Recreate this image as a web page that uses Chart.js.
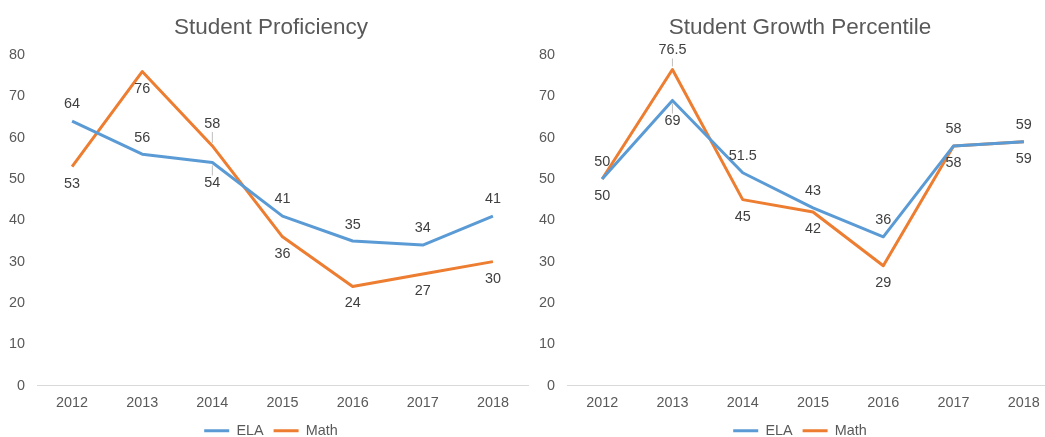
<!DOCTYPE html>
<html>
<head>
<meta charset="utf-8">
<script src="https://cdn.jsdelivr.net/npm/chart.js"></script>
<style>
  html, body { margin: 0; padding: 0; background: #fff; overflow: hidden; }
  #wrap { position: relative; width: 1045px; height: 437px; overflow: hidden; }
  canvas { position: absolute; top: 0; }
  #left { left: 0; }
  #right { left: 529px; }
</style>
</head>
<body>
<div id="wrap">
  <canvas id="left" width="542" height="437"></canvas>
  <canvas id="right" width="542" height="437"></canvas>
</div>
<script>
const years = ['2012', '2013', '2014', '2015', '2016', '2017', '2018'];

const proficiencyEla = [64, 56, 54, 41, 35, 34, 41];
const proficiencyMath = [53, 76, 58, 36, 24, 27, 30];

const growthEla = [50, 69, 51.5, 43, 36, 58, 59];
const growthMath = [50, 76.5, 45, 42, 29, 58, 59];

// label offsets (px above/below the point), kept apart from the values
const proficiencyElaDy = [-17, -16, 21, -17, -16, -17, -17];
const proficiencyMathDy = [17, 18, -22, 17, 17, 17, 17];
const growthElaDy = [17, 21, -17, -17, -17, -17, -17];
const growthMathDy = [-17, -19, 17, 17, 17, 17, 17];

const FONT = '"Liberation Sans", Arial, sans-serif';
const BLUE = '#5B9BD5';
const ORANGE = '#ED7D31';

const valueLabels = {
    id: 'valueLabels',
    afterDatasetsDraw(chart) {
        const ctx = chart.ctx;
        ctx.save();
        ctx.font = '14.4px ' + FONT;
        ctx.textAlign = 'center';
        ctx.textBaseline = 'middle';
        chart.data.datasets.forEach((ds, di) => {
            const meta = chart.getDatasetMeta(di);
            meta.data.forEach((pt, i) => {
                const dy = ds.labelDy[i];
                if (Math.abs(dy) >= 19) {
                    const s = Math.sign(dy);
                    ctx.strokeStyle = '#bfbfbf';
                    ctx.lineWidth = 1;
                    ctx.beginPath();
                    ctx.moveTo(pt.x, pt.y + s * 3);
                    ctx.lineTo(pt.x, pt.y + s * (Math.abs(dy) - 8));
                    ctx.stroke();
                }
                ctx.fillStyle = '#404040';
                ctx.fillText(String(ds.data[i]), pt.x, pt.y + dy);
            });
        });
        ctx.restore();
    }
};

function makeChart(id, title, ela, math, elaDy, mathDy, yWidth, rightWidth) {
    return new Chart(document.getElementById(id), {
        type: 'line',
        data: {
            labels: years,
            datasets: [
                {
                    label: 'ELA',
                    data: ela,
                    labelDy: elaDy,
                    borderColor: BLUE,
                    backgroundColor: BLUE,
                    borderWidth: 3,
                    tension: 0,
                    pointRadius: 0,
                    borderJoinStyle: 'round'
                },
                {
                    label: 'Math',
                    data: math,
                    labelDy: mathDy,
                    borderColor: ORANGE,
                    backgroundColor: ORANGE,
                    borderWidth: 3,
                    tension: 0,
                    pointRadius: 0,
                    borderJoinStyle: 'round'
                }
            ]
        },
        options: {
            responsive: false,
            animation: false,
            layout: { padding: { bottom: -11 } },
            plugins: {
                title: {
                    display: true,
                    text: title,
                    color: '#595959',
                    font: { family: FONT, size: 22.5, weight: 'normal' },
                    padding: { top: 14, bottom: 14 }
                },
                legend: {
                    position: 'bottom',
                    labels: {
                        color: '#595959',
                        font: { family: FONT, size: 14.4 },
                        boxWidth: 25,
                        boxHeight: 3,
                        padding: 10,
                        generateLabels: chart => Chart.defaults.plugins.legend.labels
                            .generateLabels(chart)
                            .map(item => Object.assign(item, { lineWidth: 0 }))
                    }
                },
                tooltip: { enabled: false }
            },
            scales: {
                x: {
                    offset: true,
                    grid: { display: false, drawTicks: false },
                    border: { display: true, color: '#d9d9d9', width: 1 },
                    ticks: { color: '#595959', font: { family: FONT, size: 14.4 }, padding: 9 },
                    afterFit: s => { s.height = 28; }
                },
                y: {
                    min: 0,
                    max: 80,
                    ticks: { stepSize: 10, color: '#595959', font: { family: FONT, size: 14.4 }, padding: 12 },
                    grid: { display: false, drawTicks: false },
                    border: { display: false },
                    afterFit: s => { s.width = yWidth; }
                },
                pad: {
                    position: 'right',
                    display: true,
                    grid: { display: false, drawTicks: false },
                    border: { display: false },
                    ticks: { display: false },
                    afterFit: s => { s.width = rightWidth; }
                }
            }
        },
        plugins: [valueLabels]
    });
}

makeChart('left', 'Student Proficiency', proficiencyEla, proficiencyMath,
    proficiencyElaDy, proficiencyMathDy, 37, 14);
makeChart('right', 'Student Growth Percentile', growthEla, growthMath,
    growthElaDy, growthMathDy, 38, 12);
</script>
</body>
</html>
